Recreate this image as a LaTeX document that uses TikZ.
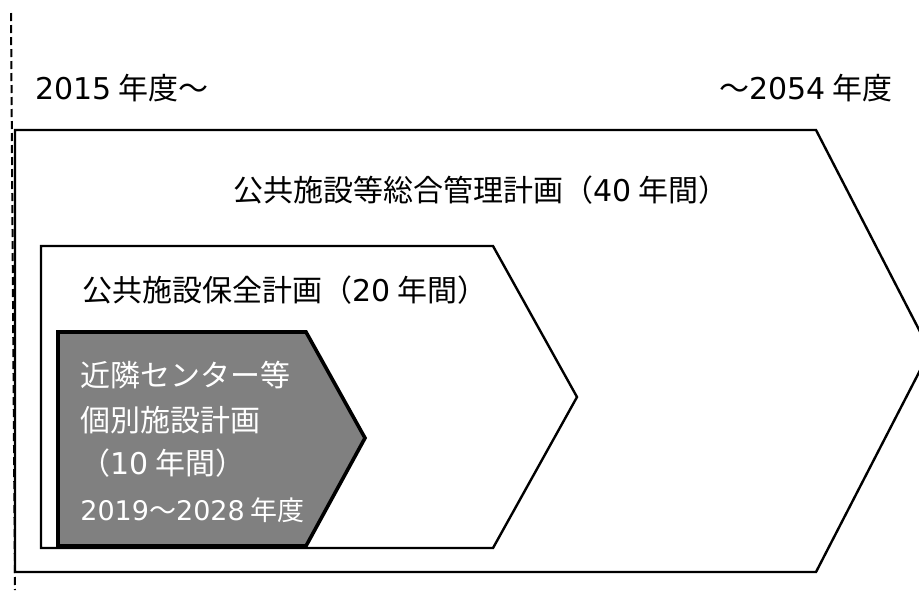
\documentclass[tikz,border=0pt]{standalone}
\usepackage{fontspec}
\setmainfont{Noto Sans CJK JP}
\newfontfamily\numfont{DejaVu Sans}
\newcommand{\yr}[1]{{\numfont #1}}
\usetikzlibrary{positioning}
\tikzstyle{plan} = [draw=black, line width=1.2pt]
\tikzstyle{subplan} = [draw=black, line width=1.8pt, fill=black!50]
\tikzstyle{startline} = [draw=black, line width=1pt, dash pattern=on 4pt off 2pt]
\tikzstyle{yeartext} = [anchor=west, inner sep=0pt, font=\fontsize{15pt}{18pt}\selectfont]
\tikzstyle{plantext} = [anchor=west, inner sep=0pt, font=\fontsize{15pt}{18pt}\selectfont]
\tikzstyle{subtext} = [anchor=west, inner sep=0pt, text=white, font=\fontsize{15pt}{18pt}\selectfont]

\begin{document}
\begin{tikzpicture}[x=0.5pt, y=-0.5pt]
        \clip (0,0) rectangle (919,590);
        \draw [plan] (15,130) -- (816,130) -- (930,351) -- (816,572) -- (15,572) -- cycle;
        \draw [plan] (41,246) -- (493,246) -- (577,397) -- (493,548) -- (41,548) -- cycle;
        \draw [subplan] (58,332) -- (306,332) -- (365,438) -- (306,546) -- (58,546) -- cycle;
        \draw [startline] (11,13) -- (15,590);

        \node (start) [yeartext] at (35,88) {\yr{2015} 年度～};
        \node (end) [yeartext, anchor=east] at (893,88) {～\yr{2054} 年度};
        \node (master) [plantext] at (233,190) {公共施設等総合管理計画（\yr{40} 年間）};
        \node (keep) [plantext] at (82,290) {公共施設保全計画（\yr{20} 年間）};
        \node (indiv1) [subtext] at (80,375) {近隣センター等};
        \node (indiv2) [subtext] at (80,420) {個別施設計画};
        \node (indiv3) [subtext] at (80,463) {（\yr{10} 年間）};
        \node (indiv4) [subtext, font=\fontsize{13.5pt}{16pt}\selectfont] at (80,510) {\yr{2019}～\yr{2028} 年度};
\end{tikzpicture}
\end{document}
